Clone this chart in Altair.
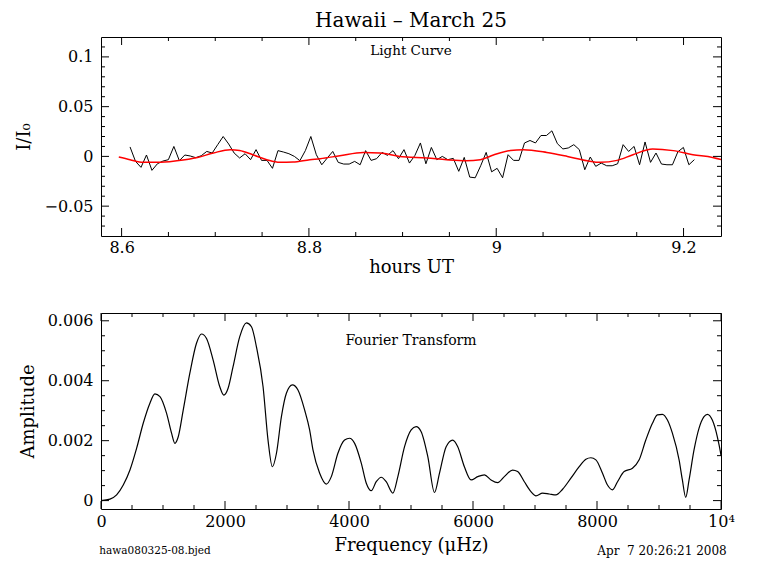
import altair as alt
import pandas as pd

FONT = "DejaVu Serif"

TITLE = "Hawaii – March 25"
LC_LABEL = "Light Curve"
FT_LABEL = "Fourier Transform"
FILE_LABEL = "hawa080325-08.bjed"
DATE_LABEL = "Apr\u00a0 7 20:26:21 2008"

# ---------------- light curve (hours UT, I/I0) ----------------
lc_start_h = 8.609
lc_cadence_s = 21.06
lc_flux = [0.0095, -0.0050, -0.0110, 0.0014, -0.0140, -0.0074, -0.0047, -0.0033, 0.0100, -0.0043,
           0.0014, 0.0004, -0.0013, 0.0007, 0.0050, 0.0034, 0.0118, 0.0200, 0.0125, 0.0034,
           -0.0016, 0.0027, -0.0033, 0.0068, -0.0040, -0.0040, -0.0120, 0.0058, 0.0044, 0.0027,
           0.0000, -0.0043, 0.0058, 0.0200, 0.0017, -0.0084, -0.0016, 0.0050, -0.0060, -0.0077,
           -0.0077, -0.0050, -0.0084, 0.0058, -0.0040, -0.0023, 0.0040, 0.0010, 0.0058, -0.0023,
           0.0068, -0.0067, 0.0010, 0.0135, -0.0074, 0.0090, -0.0033, 0.0000, -0.0033, -0.0020,
           -0.0150, -0.0010, -0.0208, -0.0215, -0.0094, 0.0040, -0.0155, -0.0120, -0.0215, 0.0017,
           -0.0040, -0.0040, 0.0135, 0.0160, 0.0135, 0.0210, 0.0210, 0.0257, 0.0128, 0.0075,
           0.0085, 0.0118, 0.0068, -0.0134, -0.0006, -0.0100, -0.0067, -0.0094, -0.0094, -0.0074,
           0.0118, 0.0050, 0.0100, -0.0084, 0.0145, -0.0060, 0.0034, -0.0077, -0.0084, -0.0084,
           0.0047, 0.0090, -0.0084, -0.0033]

# red fitted curve
fit_time = [8.597, 8.609, 8.623, 8.638, 8.659, 8.681, 8.698, 8.716, 8.726, 8.740,
            8.755, 8.769, 8.783, 8.801, 8.812, 8.833, 8.858, 8.876, 8.897, 8.926,
            8.947, 8.968, 8.983, 8.997, 9.015, 9.029, 9.054, 9.076, 9.097, 9.111,
            9.129, 9.146, 9.167, 9.189, 9.210, 9.231, 9.244]
fit_flux = [-0.0006, -0.0033, -0.0060, -0.0060, -0.0043, -0.0010, 0.0034, 0.0068, 0.0060, 0.0017,
            -0.0033, -0.0060, -0.0057, -0.0033, -0.0023, 0.0007, 0.0040, 0.0034, 0.0000, -0.0016,
            -0.0033, -0.0043, -0.0033, 0.0014, 0.0060, 0.0068, 0.0040, 0.0000, -0.0043, -0.0060,
            -0.0040, 0.0017, 0.0075, 0.0058, 0.0017, -0.0010, -0.0043]

# ---------------- Fourier transform (uHz, amplitude) ----------------
ft_freq = [0, 145, 252, 359, 467, 575, 681, 789, 869, 951,
           1058, 1138, 1192, 1246, 1326, 1433, 1540, 1622, 1702, 1809,
           1916, 1981, 2050, 2130, 2238, 2345, 2427, 2507, 2614, 2694,
           2764, 2830, 2910, 2990, 3087, 3177, 3285, 3365, 3419, 3527,
           3634, 3715, 3821, 3929, 4009, 4091, 4198, 4279, 4359, 4439,
           4520, 4600, 4708, 4788, 4896, 5003, 5083, 5164, 5271, 5379,
           5459, 5567, 5673, 5754, 5861, 5969, 6076, 6184, 6291, 6398,
           6505, 6639, 6720, 6828, 6935, 7016, 7122, 7230, 7337, 7445,
           7579, 7713, 7821, 7901, 7982, 8089, 8169, 8251, 8331, 8438,
           8572, 8680, 8787, 8894, 8974, 9055, 9136, 9216, 9324, 9377,
           9431, 9485, 9565, 9645, 9726, 9780, 9860, 9941, 9994, 10000]
ft_amp = [0.00000, 0.00005, 0.00019, 0.00052, 0.00102, 0.00175, 0.00258, 0.00325, 0.00356, 0.00347,
          0.00291, 0.00225, 0.00191, 0.00213, 0.00302, 0.00425, 0.00525, 0.00556, 0.00541, 0.00469,
          0.00380, 0.00352, 0.00375, 0.00447, 0.00547, 0.00593, 0.00580, 0.00513, 0.00380, 0.00202,
          0.00113, 0.00158, 0.00280, 0.00358, 0.00386, 0.00369, 0.00302, 0.00236, 0.00169, 0.00091,
          0.00055, 0.00080, 0.00158, 0.00202, 0.00208, 0.00191, 0.00125, 0.00058, 0.00033, 0.00063,
          0.00078, 0.00063, 0.00025, 0.00080, 0.00180, 0.00236, 0.00247, 0.00230, 0.00147, 0.00027,
          0.00091, 0.00180, 0.00202, 0.00180, 0.00113, 0.00069, 0.00080, 0.00086, 0.00069, 0.00060,
          0.00080, 0.00102, 0.00097, 0.00063, 0.00030, 0.00016, 0.00025, 0.00022, 0.00019, 0.00038,
          0.00075, 0.00113, 0.00138, 0.00143, 0.00136, 0.00091, 0.00052, 0.00036, 0.00063, 0.00097,
          0.00108, 0.00136, 0.00202, 0.00258, 0.00286, 0.00288, 0.00269, 0.00225, 0.00136, 0.00069,
          0.00011, 0.00069, 0.00169, 0.00241, 0.00280, 0.00288, 0.00269, 0.00213, 0.00158, 0.00150]

# ---------------- tick values ----------------
lc_x_major = [8.6, 8.8, 9.0, 9.2]
lc_x_minor = [8.65, 8.7, 8.75, 8.85, 8.9, 8.95, 9.05, 9.1, 9.15]
lc_y_major = [-0.05, 0.0, 0.05, 0.1]
lc_y_minor = [-0.07, -0.06, -0.04, -0.03, -0.02, -0.01, 0.01, 0.02, 0.03, 0.04,
              0.06, 0.07, 0.08, 0.09, 0.11]
ft_x_major = [0, 2000, 4000, 6000, 8000, 10000]
ft_x_minor = [500, 1000, 1500, 2500, 3000, 3500, 4500, 5000, 5500, 6500, 7000,
              7500, 8500, 9000, 9500]
ft_y_major = [0.0, 0.002, 0.004, 0.006]
ft_y_minor = [0.0005, 0.001, 0.0015, 0.0025, 0.003, 0.0035, 0.0045, 0.005, 0.0055]

W = 620
H1 = 199
H2 = 196
MAJ = 8
MIN = 4


def tick_layers(xmaj, xmin, ymaj, ymin, xs, ys, xaxis, yaxis, w, h):
    layers = []
    for vals, ln in ((xmaj, MAJ), (xmin, MIN)):
        df = pd.DataFrame({"v": vals})
        base = alt.Chart(df).mark_rule(color="black", strokeWidth=1)
        layers.append(base.encode(x=alt.X("v:Q", scale=xs, axis=xaxis),
                                  y=alt.value(h), y2=alt.value(h - ln)))
        layers.append(base.encode(x=alt.X("v:Q", scale=xs, axis=xaxis),
                                  y=alt.value(0), y2=alt.value(ln)))
    for vals, ln in ((ymaj, MAJ), (ymin, MIN)):
        df = pd.DataFrame({"v": vals})
        base = alt.Chart(df).mark_rule(color="black", strokeWidth=1)
        layers.append(base.encode(y=alt.Y("v:Q", scale=ys, axis=yaxis),
                                  x=alt.value(0), x2=alt.value(ln)))
        layers.append(base.encode(y=alt.Y("v:Q", scale=ys, axis=yaxis),
                                  x=alt.value(w), x2=alt.value(w - ln)))
    return layers


# ---------------- top panel ----------------
lc_df = pd.DataFrame({
    "t": [lc_start_h + i * lc_cadence_s / 3600.0 for i in range(len(lc_flux))],
    "flux": lc_flux,
})
fit_df = pd.DataFrame({"t": fit_time, "flux": fit_flux})

lc_xs = alt.Scale(domain=[8.578, 9.24], nice=False, zero=False)
lc_ys = alt.Scale(domain=[-0.08, 0.12], nice=False, zero=False)
lc_xaxis = alt.Axis(title="hours UT", values=lc_x_major, format="~g",
                    labelPadding=3, titlePadding=3)
lc_yaxis = alt.Axis(title="I/I₀", values=lc_y_major, format="~g")

lc_line = alt.Chart(lc_df).mark_line(color="black", strokeWidth=1, clip=True).encode(
    x=alt.X("t:Q", scale=lc_xs, axis=lc_xaxis),
    y=alt.Y("flux:Q", scale=lc_ys, axis=lc_yaxis),
)
fit_line = alt.Chart(fit_df).mark_line(color="#ff0000", strokeWidth=1.5, clip=True,
                                       interpolate="monotone").encode(
    x=alt.X("t:Q", scale=lc_xs, axis=lc_xaxis),
    y=alt.Y("flux:Q", scale=lc_ys, axis=lc_yaxis),
)
lc_text = alt.Chart(pd.DataFrame({"label": [LC_LABEL]})).mark_text(
    font=FONT, fontSize=13.5, color="black", baseline="middle").encode(
    x=alt.value(W / 2), y=alt.value(14), text="label:N")

top = alt.layer(
    lc_line, fit_line, lc_text,
    *tick_layers(lc_x_major, lc_x_minor, lc_y_major, lc_y_minor, lc_xs, lc_ys,
                 lc_xaxis, lc_yaxis, W, H1)
).properties(
    width=W, height=H1,
    title=alt.TitleParams(TITLE, frame="group", anchor="middle", font=FONT,
                          fontSize=20, fontWeight="normal", color="black", offset=6),
)

# ---------------- bottom panel ----------------
ft_df = pd.DataFrame({"f": ft_freq, "amp": ft_amp})
ft_xs = alt.Scale(domain=[0, 10000], nice=False, zero=False)
ft_ys = alt.Scale(domain=[-0.00028, 0.00626], nice=False, zero=False)
ft_xaxis = alt.Axis(title="Frequency (μHz)", values=ft_x_major, labelPadding=4,
                    titlePadding=7,
                    labelExpr="datum.value == 10000 ? '10⁴' : format(datum.value, 'd')")
ft_yaxis = alt.Axis(title="Amplitude", values=ft_y_major, format="~g")

ft_line = alt.Chart(ft_df).mark_line(color="black", strokeWidth=1.2, clip=True,
                                     interpolate="monotone").encode(
    x=alt.X("f:Q", scale=ft_xs, axis=ft_xaxis),
    y=alt.Y("amp:Q", scale=ft_ys, axis=ft_yaxis),
)
ft_text = alt.Chart(pd.DataFrame({"label": [FT_LABEL]})).mark_text(
    font=FONT, fontSize=14, color="black", baseline="middle").encode(
    x=alt.value(W / 2), y=alt.value(28), text="label:N")
file_text = alt.Chart(pd.DataFrame({"label": [FILE_LABEL]})).mark_text(
    font=FONT, fontSize=10.5, color="black", baseline="middle").encode(
    x=alt.value(54), y=alt.value(238), text="label:N")
date_text = alt.Chart(pd.DataFrame({"label": [DATE_LABEL]})).mark_text(
    font=FONT, fontSize=12, color="black", baseline="middle").encode(
    x=alt.value(561), y=alt.value(238), text="label:N")

bottom = alt.layer(
    ft_line, ft_text, file_text, date_text,
    *tick_layers(ft_x_major, ft_x_minor, ft_y_major, ft_y_minor, ft_xs, ft_ys,
                 ft_xaxis, ft_yaxis, W, H2)
).properties(width=W, height=H2)

chart = alt.vconcat(top, bottom, spacing=77, bounds="flush").properties(
    padding={"left": 7, "top": 2, "right": 10, "bottom": 5},
    background="white",
).configure_axis(
    domain=False, ticks=False, grid=False,
    labelFont=FONT, labelFontSize=16, labelColor="black",
    titleFont=FONT, titleFontSize=18, titleFontWeight="normal", titleColor="black",
    labelFlush=False, labelOverlap=False, labelBound=False,
).configure_axisY(
    labelPadding=8, titlePadding=10,
).configure_view(
    stroke="black", strokeWidth=1,
)

chart.save("out.html", embed_options={"renderer": "svg", "actions": False})
